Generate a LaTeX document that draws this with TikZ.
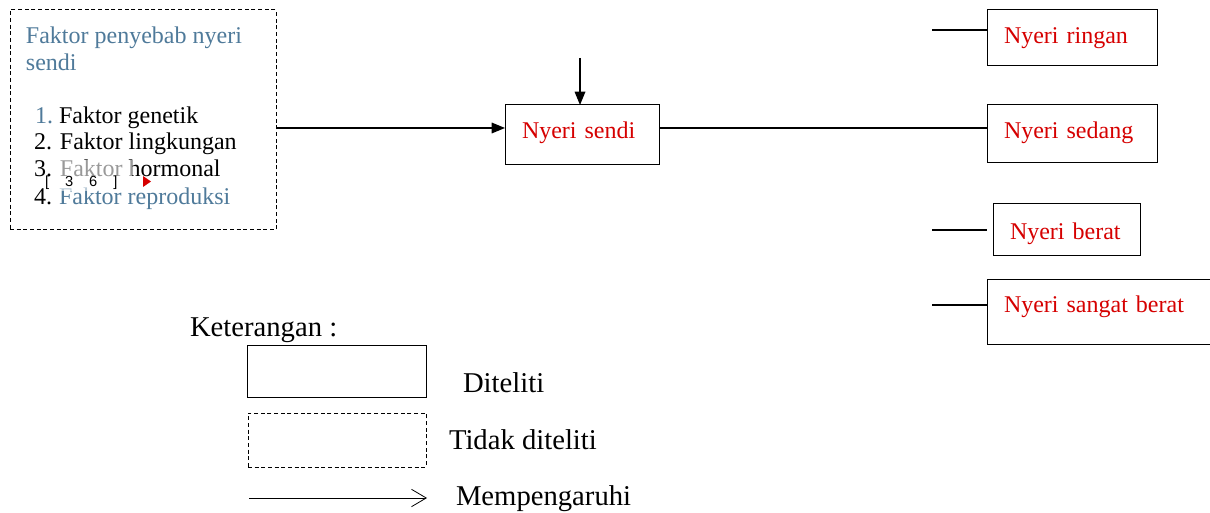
\documentclass[tikz,border=0pt]{standalone}
\usepackage{fontspec}
\setmainfont{Liberation Serif}
\setsansfont{Liberation Sans}
\usetikzlibrary{arrows.meta}

\definecolor{capblue}{RGB}{79,122,154}
\definecolor{resred}{RGB}{214,0,0}

\begin{document}
\begin{tikzpicture}[x=0.75pt,y=-0.75pt,>={Triangle[length=10pt,width=8pt]},
 every node/.style={font=\fontsize{18pt}{21pt}\selectfont,inner sep=0pt,outer sep=0pt},
 resbox/.style={draw,line width=0.75pt,text=resred,align=left,anchor=north west,
   inner xsep=12.75pt,text height=#1,text depth=4pt},
 notbox/.style={draw,line width=0.75pt,dash pattern=on 3pt off 2pt,anchor=north west},
 txt/.style={anchor=base west},
 legend/.style={font=\fontsize{21.5pt}{25pt}\selectfont,anchor=base west},
 conn/.style={line width=0.9pt}]
  \useasboundingbox[fill=white] (0,0) rectangle (1210,513);
  % faktor penyebab (tidak diteliti)
  \node[notbox,minimum width=199.5pt,minimum height=165pt] (faktor) at (10,10) {};
  \node[txt,text=capblue] (judul1) at (26,44) {Faktor penyebab nyeri};
  \node[txt,text=capblue] (judul2) at (26,71) {sendi};
  \node[txt,text=capblue] (no1) at (35,124) {1.};
  \node[txt] (item1) at (59,124) {Faktor genetik};
  \node[txt] (item2) at (34,150) {2. Faktor lingkungan};
  \node[txt] (item3) at (34,177) {3. Faktor hormonal};
  \node[txt] (no4) at (34,205) {4.};
  \node[txt,text=capblue] (item4) at (59,205) {Faktor reproduksi};
  \fill[white,fill opacity=0.6] (57,160) rectangle (132,191);
  \node[txt,font=\sffamily\fontsize{11pt}{13pt}\selectfont] (sitasi) at (45,187)
    {[\hspace{12pt}3\hspace{12pt}6\hspace{12pt}]};
  \fill[resred] (143,176) -- (151,181.5) -- (143,187) -- cycle;
  % variabel diteliti
  \node[resbox=10pt,minimum height=45pt,text width=90pt] (sendi) at (505,105) {Nyeri sendi};
  \node[resbox=13pt,minimum height=42pt,text width=102pt] (ringan) at (987,10) {Nyeri ringan};
  \node[resbox=11.5pt,minimum height=43.5pt,text width=102pt] (sedang) at (987,105) {Nyeri sedang};
  \node[resbox=19pt,minimum height=39pt,text width=84.75pt] (berat) at (993,204) {Nyeri berat};
  \node[resbox=4pt,minimum height=48pt,text width=144pt] (sangat) at (987,280) {Nyeri sangat berat};
  % alur
  \coordinate (alur) at (0,128);
  \draw[conn,->] (faktor.east |- alur) -- (sendi.west |- alur);
  \draw[conn] (sendi.east |- alur) -- (sedang.west |- alur);
  \coordinate (atas) at (580,58);
  \draw[conn,->] (atas) -- (atas |- sendi.north);
  \foreach \b/\y/\s in {ringan/30/0pt,berat/230/4.5pt,sangat/305/0pt}
    \draw[conn,shorten >=\s] (932,\y) coordinate (ujung-\b) -- (ujung-\b -| \b.west);
  % keterangan
  \node[legend] (ket) at (190,336) {Keterangan :};
  \node[draw,line width=0.75pt,anchor=north west,minimum width=134.25pt,minimum height=39pt] (leg-teliti) at (247,345) {};
  \node[notbox,minimum width=133.5pt,minimum height=40.5pt] (leg-tidak) at (248,413) {};
  \coordinate (leg-a) at (249,498);
  \coordinate (leg-b) at (427,498);
  \draw[line width=0.6pt,-{Straight Barb[length=11pt,width=13pt,line width=0.6pt]}] (leg-a) -- (leg-b);
  \node[legend] (lbl-teliti) at (463,392) {Diteliti};
  \node[legend] (lbl-tidak) at (449,449) {Tidak diteliti};
  \node[legend] (lbl-pengaruh) at (456,505) {Mempengaruhi};
\end{tikzpicture}
\end{document}
